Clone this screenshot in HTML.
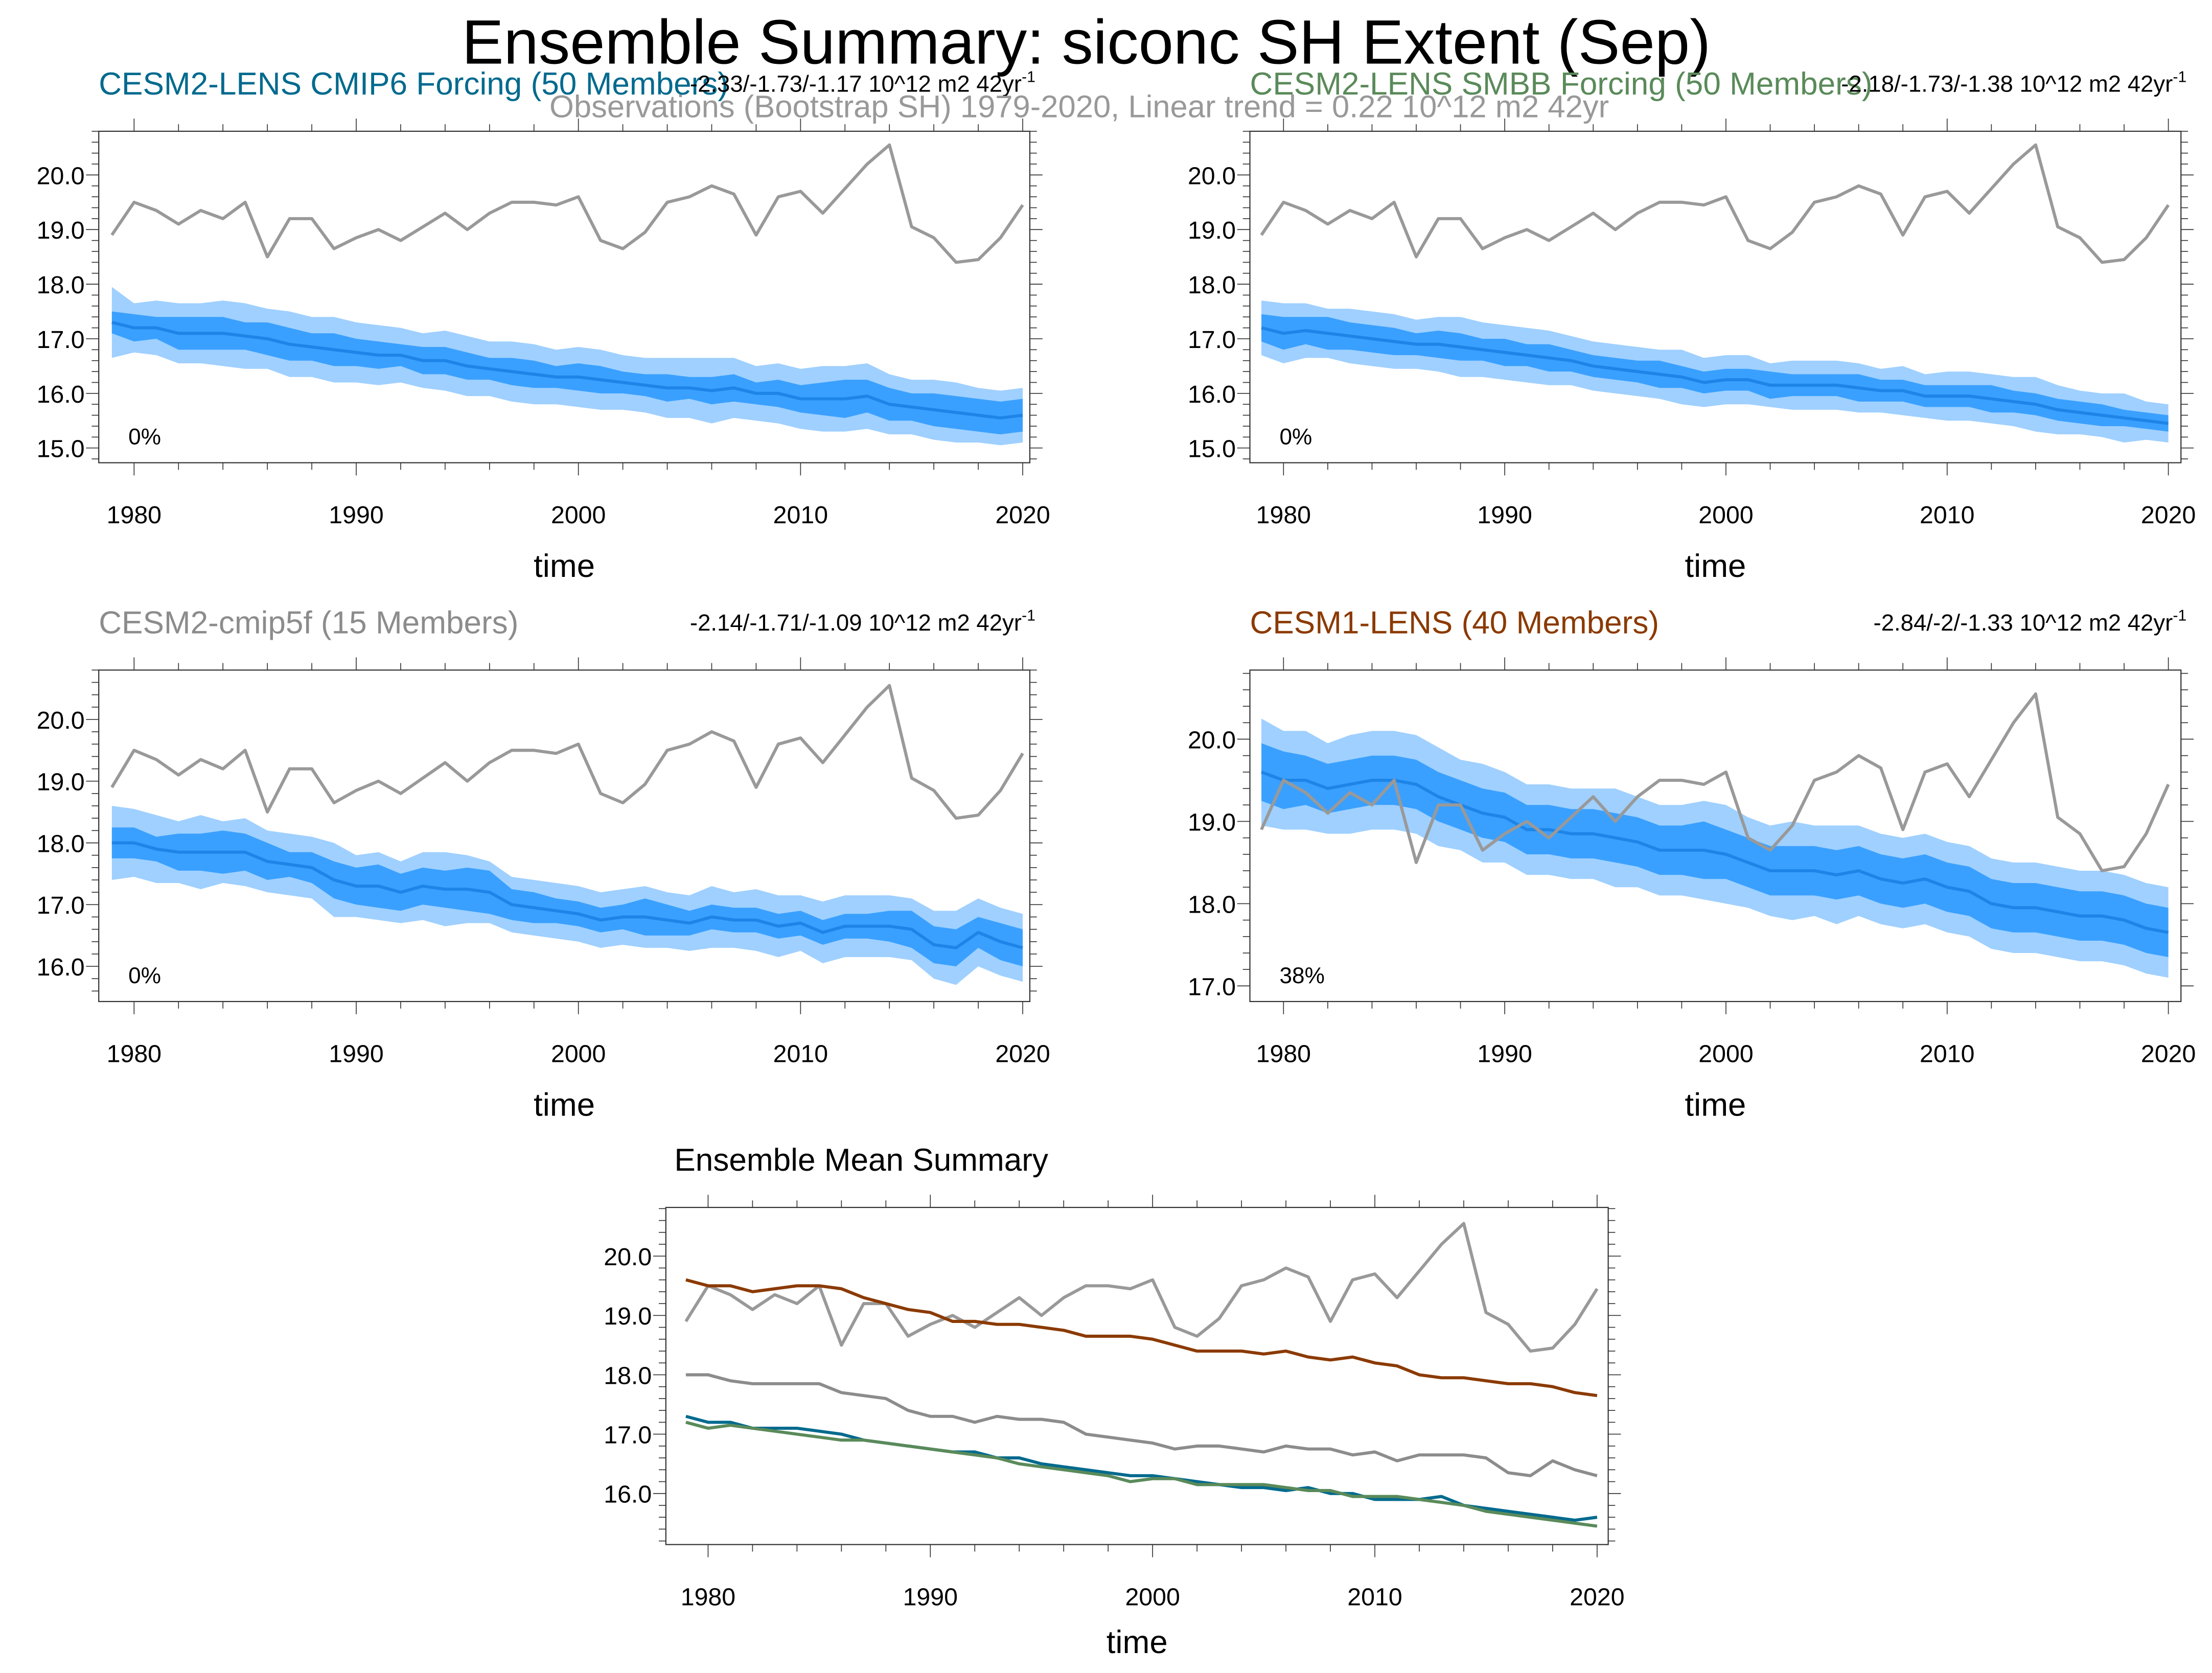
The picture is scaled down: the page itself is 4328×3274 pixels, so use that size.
<!DOCTYPE html>
<html><head><meta charset="utf-8"><style>
html,body{margin:0;padding:0;background:#fff;}
svg{display:block;font-family:"Liberation Sans",sans-serif;}
</style></head><body>
<svg id="fig" width="4328" height="3274" viewBox="0 0 1568 1186" xmlns="http://www.w3.org/2000/svg">
<text x="770" y="45" font-size="44.5" text-anchor="middle">Ensemble Summary: siconc SH Extent (Sep)</text>
</svg>
<script>
const years = [];
for (let y = 1979; y <= 2020; y++) years.push(y);
const obs = [18.9,19.5,19.35,19.1,19.35,19.2,19.5,18.5,19.2,19.2,18.65,18.85,19.0,18.8,19.05,19.3,19.0,19.3,19.5,19.5,19.45,19.6,18.8,18.65,18.95,19.5,19.6,19.8,19.65,18.9,19.6,19.7,19.3,19.75,20.2,20.55,19.05,18.85,18.4,18.45,18.85,19.45];
const meanCmip6 = [17.3,17.2,17.2,17.1,17.1,17.1,17.05,17.0,16.9,16.85,16.8,16.75,16.7,16.7,16.6,16.6,16.5,16.45,16.4,16.35,16.3,16.3,16.25,16.2,16.15,16.1,16.1,16.05,16.1,16.0,16.0,15.9,15.9,15.9,15.95,15.8,15.75,15.7,15.65,15.6,15.55,15.6];
const meanSmbb = [17.2,17.1,17.15,17.1,17.05,17.0,16.95,16.9,16.9,16.85,16.8,16.75,16.7,16.65,16.6,16.5,16.45,16.4,16.35,16.3,16.2,16.25,16.25,16.15,16.15,16.15,16.15,16.1,16.05,16.05,15.95,15.95,15.95,15.9,15.85,15.8,15.7,15.65,15.6,15.55,15.5,15.45];
const meanCmip5f = [18.0,18.0,17.9,17.85,17.85,17.85,17.85,17.7,17.65,17.6,17.4,17.3,17.3,17.2,17.3,17.25,17.25,17.2,17.0,16.95,16.9,16.85,16.75,16.8,16.8,16.75,16.7,16.8,16.75,16.75,16.65,16.7,16.55,16.65,16.65,16.65,16.6,16.35,16.3,16.55,16.4,16.3];
const meanCesm1 = [19.6,19.5,19.5,19.4,19.45,19.5,19.5,19.45,19.3,19.2,19.1,19.05,18.9,18.9,18.85,18.85,18.8,18.75,18.65,18.65,18.65,18.6,18.5,18.4,18.4,18.4,18.35,18.4,18.3,18.25,18.3,18.2,18.15,18.0,17.95,17.95,17.9,17.85,17.85,17.8,17.7,17.65];
const innerCmip6 = [0.2,0.25,0.2,0.3,0.3,0.3,0.25,0.3,0.3,0.25,0.3,0.25,0.25,0.2,0.25,0.25,0.25,0.2,0.25,0.25,0.2,0.25,0.25,0.2,0.2,0.25,0.2,0.25,0.25,0.2,0.25,0.25,0.3,0.35,0.3,0.3,0.25,0.3,0.3,0.3,0.3,0.3];
const outerCmip6 = [0.65,0.45,0.5,0.55,0.55,0.6,0.6,0.55,0.6,0.55,0.6,0.55,0.55,0.5,0.5,0.55,0.55,0.5,0.55,0.55,0.5,0.55,0.55,0.5,0.5,0.55,0.55,0.6,0.55,0.5,0.55,0.55,0.6,0.6,0.6,0.55,0.5,0.55,0.55,0.5,0.5,0.5];
const innerSmbb = [0.25,0.3,0.25,0.3,0.25,0.25,0.25,0.2,0.25,0.25,0.2,0.25,0.2,0.25,0.2,0.2,0.2,0.2,0.25,0.2,0.2,0.2,0.2,0.25,0.2,0.2,0.2,0.25,0.2,0.2,0.2,0.2,0.2,0.25,0.2,0.2,0.2,0.2,0.2,0.15,0.15,0.15];
const outerSmbb = [0.5,0.55,0.5,0.45,0.5,0.5,0.5,0.45,0.5,0.55,0.5,0.5,0.5,0.5,0.45,0.45,0.45,0.45,0.45,0.5,0.45,0.45,0.45,0.4,0.45,0.45,0.45,0.45,0.4,0.45,0.4,0.45,0.45,0.45,0.45,0.5,0.45,0.4,0.4,0.45,0.35,0.35];
const innerCmip5f = [0.25,0.25,0.2,0.3,0.3,0.35,0.3,0.3,0.2,0.25,0.3,0.3,0.35,0.3,0.3,0.3,0.35,0.35,0.25,0.25,0.2,0.2,0.2,0.2,0.3,0.25,0.2,0.2,0.2,0.2,0.2,0.2,0.2,0.2,0.2,0.25,0.3,0.3,0.3,0.25,0.3,0.3];
const outerCmip5f = [0.6,0.55,0.55,0.5,0.6,0.5,0.55,0.5,0.5,0.5,0.6,0.5,0.55,0.5,0.55,0.6,0.55,0.5,0.45,0.45,0.45,0.45,0.45,0.45,0.5,0.45,0.45,0.5,0.45,0.5,0.5,0.45,0.5,0.5,0.5,0.5,0.5,0.55,0.6,0.55,0.55,0.55];
const innerCesm1 = [0.35,0.35,0.3,0.3,0.3,0.3,0.3,0.3,0.3,0.3,0.3,0.3,0.3,0.3,0.3,0.3,0.3,0.3,0.3,0.3,0.35,0.3,0.3,0.3,0.3,0.3,0.3,0.3,0.3,0.3,0.3,0.3,0.3,0.3,0.3,0.3,0.3,0.3,0.3,0.3,0.3,0.3];
const outerCesm1 = [0.65,0.6,0.6,0.55,0.6,0.6,0.6,0.6,0.6,0.55,0.6,0.55,0.55,0.55,0.55,0.55,0.6,0.55,0.55,0.55,0.6,0.6,0.55,0.55,0.6,0.55,0.6,0.55,0.55,0.55,0.55,0.55,0.55,0.55,0.55,0.55,0.55,0.55,0.55,0.55,0.55,0.55];
const xTicks = [1980,1990,2000,2010,2020];

const NS = "http://www.w3.org/2000/svg";
const svg = document.getElementById('fig');
function el(tag, attrs, parent) {
  const e = document.createElementNS(NS, tag);
  for (const k in attrs) e.setAttribute(k, attrs[k]);
  (parent || svg).appendChild(e);
  return e;
}
function txt(s, attrs, name) {
  const t = el('text', attrs);
  t.textContent = s;
  
  
  return t;
}

function panel(p) {
  const g = el('g', {});
  
  
  const X = v => p.x0 + (v - p.xmin) / (p.xmax - p.xmin) * (p.x1 - p.x0);
  const Y = v => p.y1 - (v - p.ymin) / (p.ymax - p.ymin) * (p.y1 - p.y0);
  for (let yr = 1978; yr <= 2020; yr += 2) {
    if (yr < p.xmin || yr > p.xmax) continue;
    const major = yr % 10 === 0;
    const L = major ? 9 : 5;
    const xt = X(yr);
    const t1 = el('line', {x1: xt, x2: xt, y1: p.y1, y2: p.y1 + L, stroke: '#333', 'stroke-width': 0.6}, g);
    
    
    const t2 = el('line', {x1: xt, x2: xt, y1: p.y0, y2: p.y0 - L, stroke: '#333', 'stroke-width': 0.6}, g);
    
    
  }
  for (let k = Math.ceil(p.ymin * 5 - 1e-6); k <= Math.floor(p.ymax * 5 + 1e-6); k++) {
    const v = k / 5;
    const major = k % 5 === 0;
    const L = major ? 9 : 5;
    const yt = Y(v);
    const a = el('line', {x1: p.x0 - L, x2: p.x0, y1: yt, y2: yt, stroke: '#333', 'stroke-width': 0.6}, g);
    
    
    const b = el('line', {x1: p.x1, x2: p.x1 + L, y1: yt, y2: yt, stroke: '#333', 'stroke-width': 0.6}, g);
    
    
    if (major) {
      g.appendChild(txt(v.toFixed(1), {x: p.x0 - 10, y: yt + 6.5, 'font-size': 17.5, 'text-anchor': 'end'}, 'y-tick-label'));
    }
  }
  xTicks.forEach(v => {
    g.appendChild(txt(String(v), {x: X(v), y: p.y1 + 43, 'font-size': 17.5, 'text-anchor': 'middle'}, 'x-tick-label'));
  });
  (p.bands || []).forEach(b => {
    const up = years.map((yr, i) => X(yr).toFixed(2) + ',' + Y(b.mean[i] + b.hw[i]).toFixed(2));
    const dn = years.map((yr, i) => X(yr).toFixed(2) + ',' + Y(b.mean[i] - b.hw[i]).toFixed(2)).reverse();
    const poly = el('polygon', {points: up.concat(dn).join(' '), fill: b.color}, g);
    
    
  });
  p.lines.forEach(l => {
    const pts = years.map((yr, i) => X(yr).toFixed(2) + ',' + Y(l.data[i]).toFixed(2)).join(' ');
    const pl = el('polyline', {points: pts, fill: 'none', stroke: l.color, 'stroke-width': l.w || 2.2, 'stroke-linejoin': 'round'}, g);
    
    
  });
  const box = el('rect', {x: p.x0, y: p.y0, width: p.x1 - p.x0, height: p.y1 - p.y0, fill: 'none', stroke: '#333', 'stroke-width': 0.8}, g);
  
  
  g.appendChild(txt('time', {x: (p.x0 + p.x1) / 2, y: p.y1 + (p.timeDy || 81), 'font-size': 23, 'text-anchor': 'middle'}, 'x-axis-title'));
  if (p.title) g.appendChild(txt(p.title, {x: p.tx || p.x0, y: p.y0 - 26, 'font-size': 22.5, fill: p.tcolor}, 'panel-title'));
  if (p.trend) {
    const t = txt(p.trend, {x: p.x1 + 4, y: p.y0 - 28, 'font-size': 16.5, 'text-anchor': 'end'}, 'trend-label');
    const s = el('tspan', {dy: -7, 'font-size': 11}, t);
    s.textContent = '-1';
    g.appendChild(t);
  }
  if (p.pct) g.appendChild(txt(p.pct, {x: p.x0 + 21, y: p.y1 - 13, 'font-size': 16}, 'percent-label'));
}

const OBS = {data: obs, color: '#999999', name: 'observations-line'};
const LB = '#9fd0ff', DB = '#3aa0ff', MB = '#1e85e8';
panel({name:'panel-cesm2-cmip6', x0:70, x1:730, y0:93, y1:328, xmin:1978.41, xmax:2020.32, ymin:14.73, ymax:20.8,
  title:'CESM2-LENS CMIP6 Forcing (50 Members)', tcolor:'#006a8e', trend:'-2.33/-1.73/-1.17 10^12 m2 42yr', pct:'0%',
  bands:[{mean:meanCmip6, hw:outerCmip6, color:LB, name:'outer-range-band'},{mean:meanCmip6, hw:innerCmip6, color:DB, name:'inner-range-band'}],
  lines:[OBS,{data:meanCmip6, color:MB, name:'ensemble-mean-line'}]});
panel({name:'panel-cesm2-smbb', x0:886, x1:1546, y0:93, y1:328, xmin:1978.48, xmax:2020.57, ymin:14.73, ymax:20.8,
  title:'CESM2-LENS SMBB Forcing (50 Members)', tcolor:'#5a8a5a', trend:'-2.18/-1.73/-1.38 10^12 m2 42yr', pct:'0%',
  bands:[{mean:meanSmbb, hw:outerSmbb, color:LB, name:'outer-range-band'},{mean:meanSmbb, hw:innerSmbb, color:DB, name:'inner-range-band'}],
  lines:[OBS,{data:meanSmbb, color:MB, name:'ensemble-mean-line'}]});
panel({name:'panel-cesm2-cmip5f', x0:70, x1:730, y0:475, y1:710, xmin:1978.41, xmax:2020.32, ymin:15.43, ymax:20.8,
  title:'CESM2-cmip5f (15 Members)', tcolor:'#8c8c8c', trend:'-2.14/-1.71/-1.09 10^12 m2 42yr', pct:'0%',
  bands:[{mean:meanCmip5f, hw:outerCmip5f, color:LB, name:'outer-range-band'},{mean:meanCmip5f, hw:innerCmip5f, color:DB, name:'inner-range-band'}],
  lines:[OBS,{data:meanCmip5f, color:MB, name:'ensemble-mean-line'}]});
panel({name:'panel-cesm1-lens', x0:886, x1:1546, y0:475, y1:710, xmin:1978.48, xmax:2020.57, ymin:16.81, ymax:20.84,
  title:'CESM1-LENS (40 Members)', tcolor:'#8b3a00', trend:'-2.84/-2/-1.33 10^12 m2 42yr', pct:'38%',
  bands:[{mean:meanCesm1, hw:outerCesm1, color:LB, name:'outer-range-band'},{mean:meanCesm1, hw:innerCesm1, color:DB, name:'inner-range-band'}],
  lines:[{data:meanCesm1, color:MB, name:'ensemble-mean-line'},OBS]});
panel({name:'panel-ensemble-mean-summary', x0:472, x1:1140, y0:856, y1:1095, xmin:1978.1, xmax:2020.5, ymin:15.14, ymax:20.82,
  title:'Ensemble Mean Summary', tcolor:'#000', tx:478, timeDy:77,
  lines:[OBS,{data:meanCesm1, color:'#8b3a00', name:'cesm1-mean-line'},{data:meanCmip5f, color:'#8c8c8c', name:'cmip5f-mean-line'},
    {data:meanCmip6, color:'#006a8e', name:'cmip6-mean-line'},{data:meanSmbb, color:'#5a8a5a', name:'smbb-mean-line'}]});
txt('Observations (Bootstrap SH) 1979-2020, Linear trend = 0.22 10^12 m2 42yr', {x:765, y:83, 'font-size':22.3, fill:'#999', 'text-anchor':'middle'}, 'observations-subtitle');
</script>
</body></html>
